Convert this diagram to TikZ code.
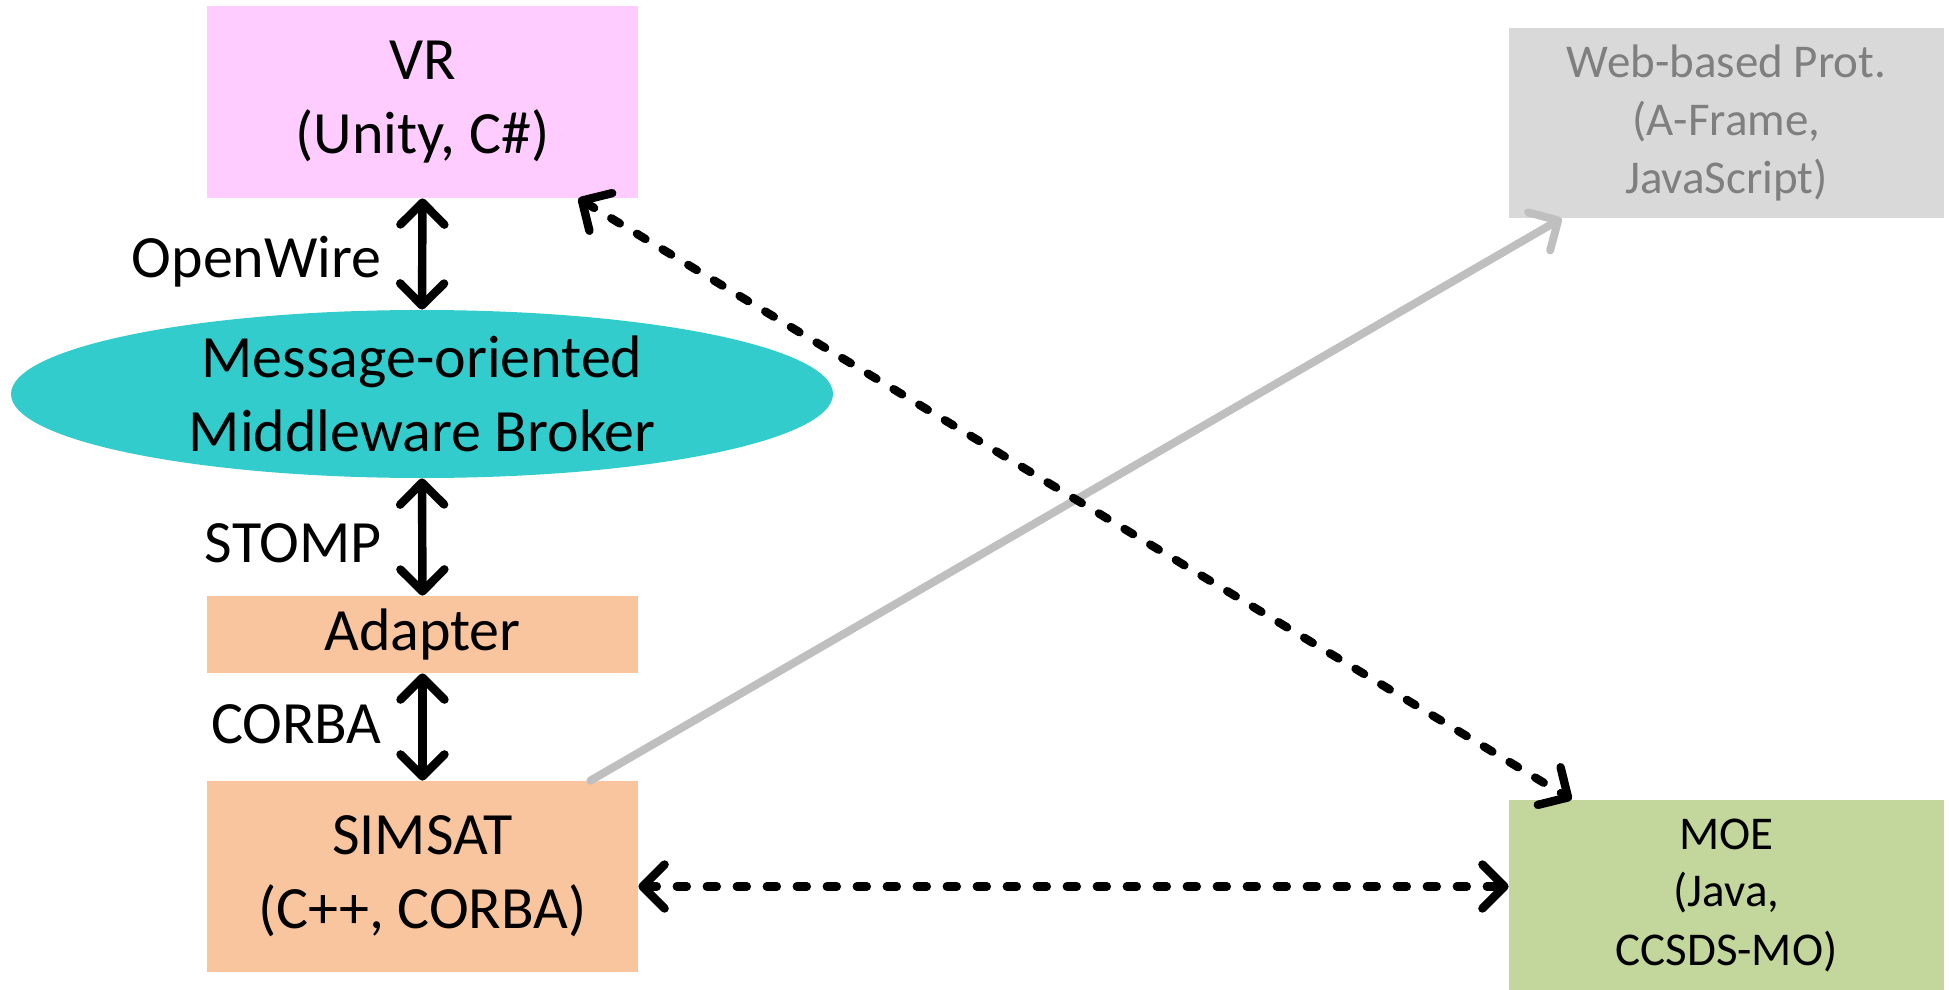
\documentclass[tikz,border=0pt]{standalone}
\usepackage{fontspec}
\setmainfont{Carlito}
\usetikzlibrary{arrows.meta,calc,shapes.geometric}
\definecolor{vrpink}{HTML}{FFCCFF}
\definecolor{brokerteal}{HTML}{33CCCC}
\definecolor{peach}{HTML}{F9C59F}
\definecolor{webgray}{HTML}{D9D9D9}
\definecolor{webtext}{HTML}{7F7F7F}
\definecolor{moegreen}{HTML}{C3D69B}
\definecolor{arrowgray}{HTML}{BFBFBF}
\tikzset{
  bigtext/.style={font=\fontsize{30}{37}\selectfont, align=center},
  smalltext/.style={font=\fontsize{23.5}{29}\selectfont, align=center},
  boxnode/.style={rectangle, inner sep=0pt, minimum width=215.5pt},
  solidarrow/.style={line width=4.2pt, {Straight Barb[round,length=11pt,width=22pt]}-{Straight Barb[round,length=11pt,width=22pt]}},
  dasharrow/.style={line width=4.2pt, line cap=round, dash pattern=on 5pt off 10pt, {Straight Barb[round,length=11pt,width=22pt]}-{Straight Barb[round,length=11pt,width=22pt]}},
  grayarrow/.style={line width=4pt, line cap=round, draw=arrowgray, -{Straight Barb[round,length=11pt,width=22pt]}},
  protolabel/.style={font=\fontsize{30}{37}\selectfont, anchor=base east, inner sep=0pt}
}
\begin{document}
\begin{tikzpicture}[x=0.5pt, y=-0.5pt]
\useasboundingbox (0,0) rectangle (1949,990);
% nodes
\node[boxnode, fill=vrpink, minimum height=96pt, bigtext] (vr) at (422.5,102) {VR\\(Unity, C\#)};
\node[ellipse, fill=brokerteal, inner sep=0pt, minimum width=411pt, minimum height=84pt, bigtext] (broker) at (422,394) {Message-oriented\\Middleware Broker};
\node[boxnode, fill=peach, minimum height=38.5pt, bigtext] (adapter) at (422.5,634.5) {Adapter};
\node[boxnode, fill=peach, minimum height=95.5pt, bigtext] (simsat) at (422.5,876.5) {SIMSAT\\(C++, CORBA)};
\node[rectangle, inner sep=0pt, minimum width=217.5pt, minimum height=95pt, fill=webgray, text=webtext, smalltext] (web) at (1726.5,123) {Web-based Prot.\\(A-Frame,\\JavaScript)};
\node[rectangle, inner sep=0pt, minimum width=217.5pt, minimum height=95pt, fill=moegreen, smalltext] (moe) at (1726.5,895) {MOE\\(Java,\\CCSDS-MO)};
% labels
\node[protolabel] (lopenwire) at (382,277) {OpenWire};
\node[protolabel] (lstomp) at (382,562) {STOMP};
\node[protolabel] (lcorba) at (382,743) {CORBA};
% connectors
\draw[grayarrow] ($(simsat.north east)+(-48,0)$) -- ($(web.south west)+(53,0)$);
\draw[solidarrow] (vr.south) -- (broker.north);
\draw[solidarrow] (broker.south) -- (adapter.north);
\draw[solidarrow] (adapter.south) -- (simsat.north);
\draw[dasharrow] ($(vr.south east)+(-60,0)$) -- ($(moe.north west)+(63,0)$);
\coordinate (sE) at ($(simsat.east)+(0,10)$);
\draw[dasharrow] (sE) -- (sE -| moe.west);
\end{tikzpicture}
\end{document}
